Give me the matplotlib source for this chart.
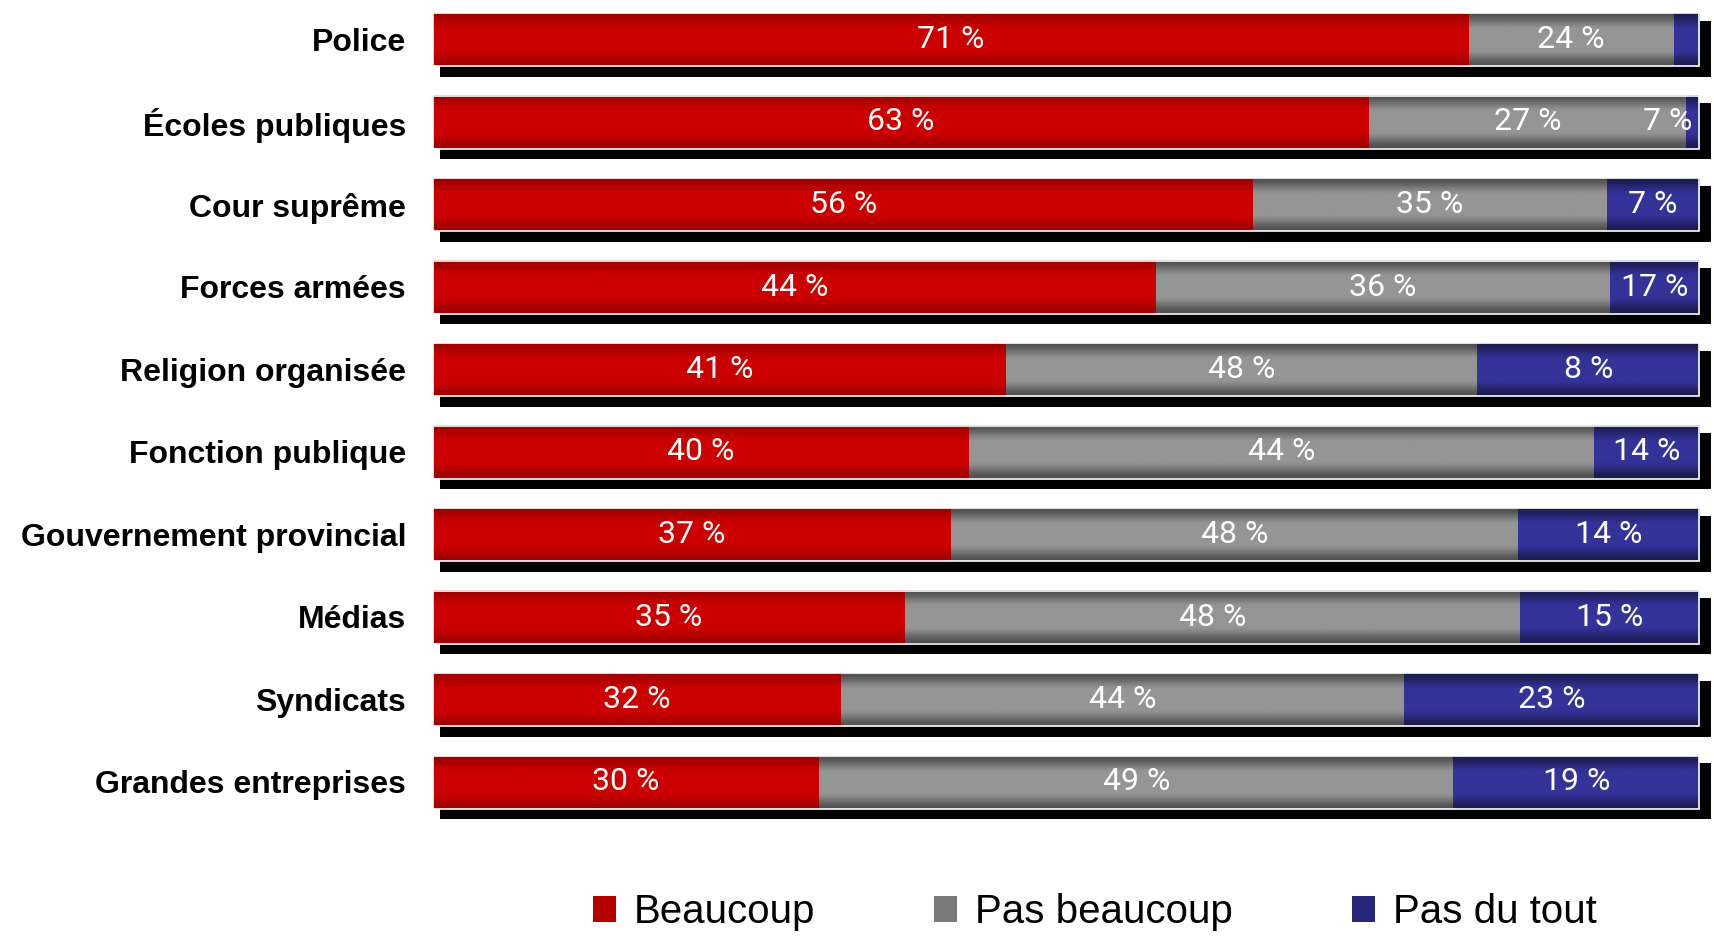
import numpy as np
import matplotlib
matplotlib.use("Agg")
import matplotlib.pyplot as plt
from matplotlib.colors import to_rgb
from matplotlib.patches import Rectangle

categories = ['Police', 'Écoles publiques', 'Cour suprême', 'Forces armées',
              'Religion organisée', 'Fonction publique', 'Gouvernement provincial',
              'Médias', 'Syndicats', 'Grandes entreprises']

# segment lengths as drawn (share of the full bar)
beaucoup = [81.8, 73.9, 64.8, 57.1, 45.3, 42.3, 40.9, 37.3, 32.2, 30.5]
pas_beaucoup = [16.2, 25.1, 27.9, 35.9, 37.2, 49.4, 44.8, 48.6, 44.5, 50.1]
pas_du_tout = [2.0, 1.0, 7.3, 7.0, 17.5, 8.3, 14.3, 14.1, 23.3, 19.4]

# printed labels
lab_beaucoup = ['71 %', '63 %', '56 %', '44 %', '41 %', '40 %', '37 %', '35 %', '32 %', '30 %']
lab_pas_beaucoup = ['24 %', '27 %', '35 %', '36 %', '48 %', '44 %', '48 %', '48 %', '44 %', '49 %']
lab_pas_du_tout = ['', '7 %', '7 %', '17 %', '8 %', '14 %', '14 %', '15 %', '23 %', '19 %']

series_names = ['Beaucoup', 'Pas beaucoup', 'Pas du tout']
# (edge colour, centre colour) for the vertical gradient
grad_colors = [('#9a0000', '#cc0000'), ('#474747', '#959595'), ('#191948', '#333399')]
legend_colors = ['#b50000', '#7a7a7a', '#28287a']

W, H = 1715, 942
fig = plt.figure(figsize=(W / 100, H / 100), dpi=100)

# axes: x=0 at pixel 433, 100 at pixel 1699; rows 82.5 px apart, first centre at 39.5 px
px_per_unit = (1699 - 433) / 100
ax_left, ax_right = 433, 1715
ax_top, ax_bot = 0, 850
ax = fig.add_axes([ax_left / W, (H - ax_bot) / H, (ax_right - ax_left) / W, (ax_bot - ax_top) / H])
xmax = (ax_right - ax_left) / px_per_unit
row = 82.5
ymin = (ax_bot - 39.5) / row
ymax = -39.5 / row

y = np.arange(len(categories))
bar_h = 53 / row

segs = [beaucoup, pas_beaucoup, pas_du_tout]
labels = [lab_beaucoup, lab_pas_beaucoup, lab_pas_du_tout]
totals = np.sum(segs, axis=0)

# drop shadow
ax.barh(y + 9 / row, totals + 5 / px_per_unit, left=7 / px_per_unit,
        height=56 / row, color='black', zorder=1)

# vertical gradient profile: dark edges, flat bright middle
t = np.linspace(0, 1, 120)
p = np.clip((0.5 - np.abs(t - 0.5)) / 0.32, 0, 1)
prof = p * p * (3 - 2 * p)
prof = 0.12 + 0.88 * prof

left = np.zeros(len(categories))
for vals, labs, (c_edge, c_mid) in zip(segs, labels, grad_colors):
    e = np.array(to_rgb(c_edge))
    m = np.array(to_rgb(c_mid))
    img = (e[None, :] + (m - e)[None, :] * prof[:, None])[:, None, :]
    bars = ax.barh(y, vals, left=left, height=bar_h, color='none', zorder=2)
    for b, lab in zip(bars, labs):
        x0, y0 = b.get_x(), b.get_y()
        w, h = b.get_width(), b.get_height()
        ax.imshow(img, extent=(x0, x0 + w, y0 + h, y0), aspect='auto',
                  interpolation='bilinear', zorder=2)
        if not lab:
            continue
        if w < 4:
            ax.text(x0 + w - 0.5, y0 + h / 2, lab, ha='right', va='center', color='white',
                    fontsize=23, family=['Roboto', 'DejaVu Sans'], zorder=4)
        else:
            ax.text(x0 + w / 2, y0 + h / 2, lab, ha='center', va='center', color='white',
                    fontsize=23, family=['Roboto', 'DejaVu Sans'], zorder=4)
    left = left + np.array(vals)

# thin white outline around each whole bar
for yi, tot in zip(y, totals):
    ax.add_patch(Rectangle((0, yi - bar_h / 2), tot, bar_h, fill=False,
                           edgecolor='white', linewidth=1.2, zorder=3))

ax.set_xlim(0, xmax)
ax.set_ylim(ymin, ymax)
ax.set_yticks(y)
ax.set_yticklabels(categories, fontsize=23, fontweight='bold', family=['Liberation Sans', 'DejaVu Sans'])
ax.tick_params(axis='y', length=0, pad=19.4)
ax.set_xticks([])
for s in ax.spines.values():
    s.set_visible(False)

handles = [Rectangle((0, 0), 1, 1, facecolor=c, edgecolor='none') for c in legend_colors]
fig.legend(handles, series_names, loc='center', bbox_to_anchor=(1095 / W, 1 - 912 / H),
           ncol=3, frameon=False, prop={'family': 'Liberation Sans', 'size': 29},
           handlelength=0.57, handleheight=0.6, handletextpad=0.45, columnspacing=2.95,
           borderpad=0, borderaxespad=0)

fig.savefig('out.png', dpi=100)
